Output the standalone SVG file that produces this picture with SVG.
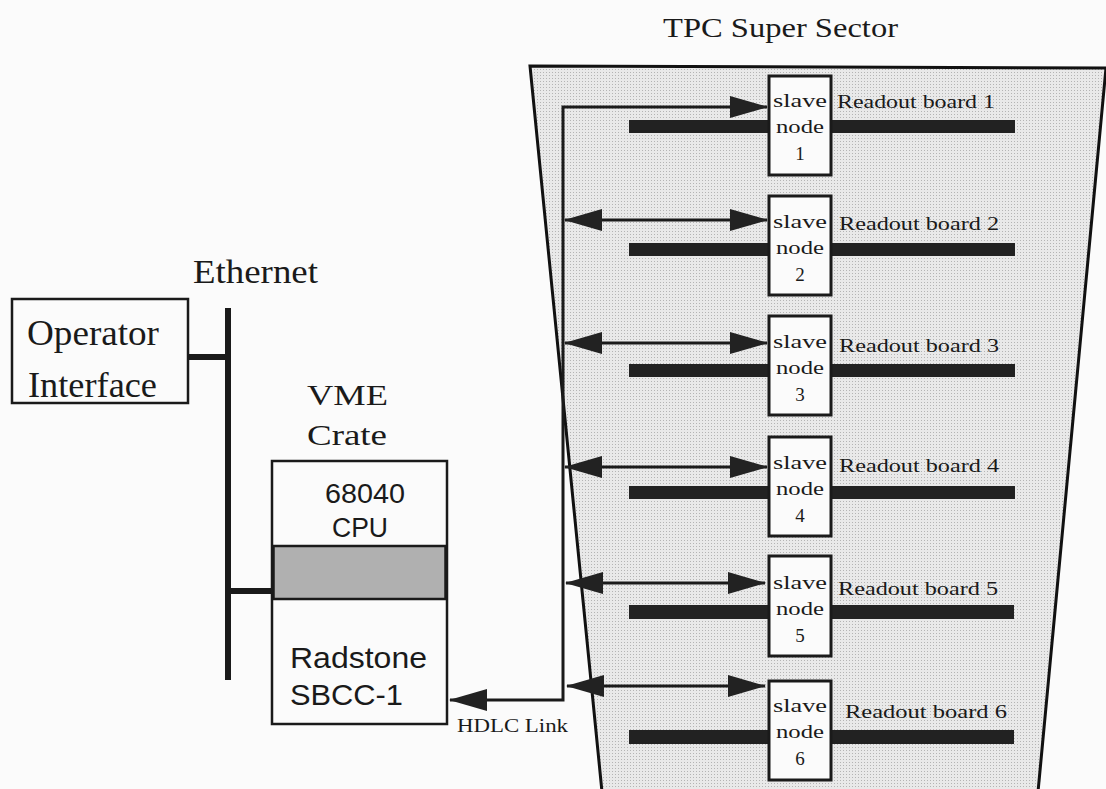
<svg xmlns="http://www.w3.org/2000/svg" width="1106" height="789" viewBox="0 0 1106 789">
<defs>
  <pattern id="dots" width="3" height="3" patternUnits="userSpaceOnUse">
    <rect width="3" height="3" fill="#e9e9e9"/>
    <rect width="1" height="1" fill="#b4b4b4"/>
  </pattern>
  <marker id="ah" viewBox="0 0 38 22" markerWidth="38" markerHeight="22" refX="37" refY="11" orient="auto-start-reverse" markerUnits="userSpaceOnUse">
    <path d="M0,0 L38,11 L0,22 Z" fill="#222"/>
  </marker>
  <style>
    .serif{font-family:"Liberation Serif","Times New Roman",serif;fill:#1a1a1a}
    .sans{font-family:"Liberation Sans",Arial,sans-serif;fill:#1a1a1a}
    .box{fill:#fbfbfb;stroke:#1a1a1a;stroke-width:2.5}
    .slave{fill:#fbfbfb;stroke:#1a1a1a;stroke-width:3}
    .bar{fill:#222}
    .conn{fill:none;stroke:#1a1a1a;stroke-width:3}
    .eth{fill:none;stroke:#1a1a1a;stroke-width:6}
    .st{font-size:19px}
    .rb{font-size:19px}
  </style>
</defs>
<rect width="1106" height="789" fill="#fbfbfb"/>

<g id="sector">
  <polygon points="530,66 1106,68 1038,792 602,792" fill="url(#dots)"/>
  <polyline points="602,792 530,66 1106,68" fill="none" stroke="#111" stroke-width="3"/>
  <line x1="1106" y1="68" x2="1038" y2="792" stroke="#111" stroke-width="3"/>
  <text class="serif" x="663" y="37" font-size="27" textLength="235" lengthAdjust="spacingAndGlyphs">TPC Super Sector</text>
</g>

<g id="readout-bars">
  <rect class="bar" x="629" y="120" width="386" height="13"/>
  <rect class="bar" x="629" y="243" width="386" height="13"/>
  <rect class="bar" x="629" y="364" width="386" height="13"/>
  <rect class="bar" x="629" y="486" width="386" height="13"/>
  <rect class="bar" x="629" y="605" width="385" height="14"/>
  <rect class="bar" x="629" y="730" width="385" height="14"/>
</g>

<g id="connectors">
  <path class="conn" d="M767,107 H563 V700 H450" marker-start="url(#ah)" marker-end="url(#ah)"/>
  <line class="conn" x1="565" y1="220" x2="767" y2="220" marker-start="url(#ah)" marker-end="url(#ah)"/>
  <line class="conn" x1="565" y1="343" x2="767" y2="343" marker-start="url(#ah)" marker-end="url(#ah)"/>
  <line class="conn" x1="565" y1="467" x2="767" y2="467" marker-start="url(#ah)" marker-end="url(#ah)"/>
  <line class="conn" x1="566" y1="583" x2="765" y2="583" marker-start="url(#ah)" marker-end="url(#ah)"/>
  <line class="conn" x1="567" y1="686" x2="765" y2="686" marker-start="url(#ah)" marker-end="url(#ah)"/>
  <line class="eth" x1="228" y1="308" x2="228" y2="680"/>
  <line class="eth" x1="188" y1="357" x2="228" y2="357"/>
  <line class="eth" x1="228" y1="591" x2="272" y2="591"/>
  <text class="serif" x="457" y="732" font-size="19" textLength="111" lengthAdjust="spacingAndGlyphs">HDLC Link</text>
  <text class="serif" x="193" y="283" font-size="33" textLength="125" lengthAdjust="spacingAndGlyphs">Ethernet</text>
</g>

<g id="operator">
  <rect class="box" x="12" y="299" width="176" height="104"/>
  <text class="serif" x="27" y="345" font-size="35" textLength="132" lengthAdjust="spacingAndGlyphs">Operator</text>
  <text class="serif" x="28" y="397" font-size="35" textLength="129" lengthAdjust="spacingAndGlyphs">Interface</text>
</g>

<g id="vme">
  <text class="serif" x="307" y="405" font-size="30" textLength="81" lengthAdjust="spacingAndGlyphs">VME</text>
  <text class="serif" x="307" y="445" font-size="30" textLength="80" lengthAdjust="spacingAndGlyphs">Crate</text>
  <rect class="box" x="272" y="461" width="175" height="263"/>
  <rect x="273.5" y="546" width="172" height="53" fill="#b0b0b0" stroke="#1a1a1a" stroke-width="2.5"/>
  <text class="sans" x="325" y="503" font-size="27" textLength="80" lengthAdjust="spacingAndGlyphs">68040</text>
  <text class="sans" x="332" y="537" font-size="27" textLength="56" lengthAdjust="spacingAndGlyphs">CPU</text>
  <text class="sans" x="290" y="668" font-size="30" textLength="137" lengthAdjust="spacingAndGlyphs">Radstone</text>
  <text class="sans" x="290" y="705" font-size="30" textLength="113" lengthAdjust="spacingAndGlyphs">SBCC-1</text>
</g>

<g id="slave1">
  <rect class="slave" x="769" y="76" width="62" height="99"/>
  <text class="serif st" x="800" y="107" text-anchor="middle" textLength="54" lengthAdjust="spacingAndGlyphs">slave</text>
  <text class="serif st" x="800" y="133" text-anchor="middle" textLength="48" lengthAdjust="spacingAndGlyphs">node</text>
  <text class="serif st" x="800" y="160" text-anchor="middle">1</text>
  <text class="serif rb" x="837" y="108" textLength="158" lengthAdjust="spacingAndGlyphs">Readout board 1</text>
</g>
<g id="slave2">
  <rect class="slave" x="769" y="196" width="62" height="99"/>
  <text class="serif st" x="800" y="228" text-anchor="middle" textLength="54" lengthAdjust="spacingAndGlyphs">slave</text>
  <text class="serif st" x="800" y="254" text-anchor="middle" textLength="48" lengthAdjust="spacingAndGlyphs">node</text>
  <text class="serif st" x="800" y="281" text-anchor="middle">2</text>
  <text class="serif rb" x="839" y="230" textLength="160" lengthAdjust="spacingAndGlyphs">Readout board 2</text>
</g>
<g id="slave3">
  <rect class="slave" x="769" y="316" width="62" height="99"/>
  <text class="serif st" x="800" y="348" text-anchor="middle" textLength="54" lengthAdjust="spacingAndGlyphs">slave</text>
  <text class="serif st" x="800" y="374" text-anchor="middle" textLength="48" lengthAdjust="spacingAndGlyphs">node</text>
  <text class="serif st" x="800" y="401" text-anchor="middle">3</text>
  <text class="serif rb" x="839" y="352" textLength="160" lengthAdjust="spacingAndGlyphs">Readout board 3</text>
</g>
<g id="slave4">
  <rect class="slave" x="769" y="437" width="62" height="99"/>
  <text class="serif st" x="800" y="469" text-anchor="middle" textLength="54" lengthAdjust="spacingAndGlyphs">slave</text>
  <text class="serif st" x="800" y="495" text-anchor="middle" textLength="48" lengthAdjust="spacingAndGlyphs">node</text>
  <text class="serif st" x="800" y="522" text-anchor="middle">4</text>
  <text class="serif rb" x="839" y="472" textLength="160" lengthAdjust="spacingAndGlyphs">Readout board 4</text>
</g>
<g id="slave5">
  <rect class="slave" x="769" y="556" width="62" height="100"/>
  <text class="serif st" x="800" y="589" text-anchor="middle" textLength="54" lengthAdjust="spacingAndGlyphs">slave</text>
  <text class="serif st" x="800" y="615" text-anchor="middle" textLength="48" lengthAdjust="spacingAndGlyphs">node</text>
  <text class="serif st" x="800" y="642" text-anchor="middle">5</text>
  <text class="serif rb" x="838" y="595" textLength="160" lengthAdjust="spacingAndGlyphs">Readout board 5</text>
</g>
<g id="slave6">
  <rect class="slave" x="769" y="681" width="62" height="99"/>
  <text class="serif st" x="800" y="712" text-anchor="middle" textLength="54" lengthAdjust="spacingAndGlyphs">slave</text>
  <text class="serif st" x="800" y="738" text-anchor="middle" textLength="48" lengthAdjust="spacingAndGlyphs">node</text>
  <text class="serif st" x="800" y="765" text-anchor="middle">6</text>
  <text class="serif rb" x="845" y="718" textLength="162" lengthAdjust="spacingAndGlyphs">Readout board 6</text>
</g>
</svg>
